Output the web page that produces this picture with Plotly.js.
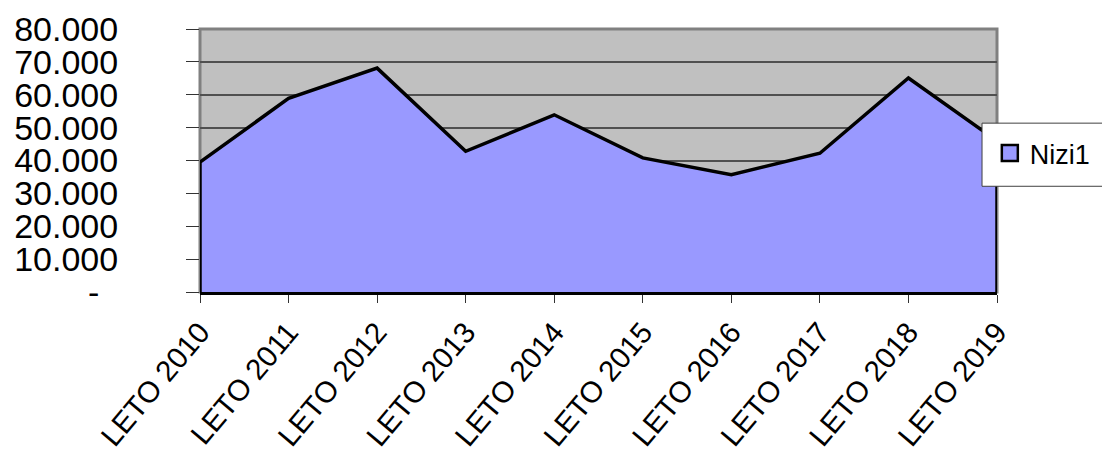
<!DOCTYPE html>
<html>
<head>
<meta charset="utf-8">
<script src="https://cdn.plot.ly/plotly-3.0.1.min.js"></script>
<style>html,body{margin:0;padding:0;background:#fff;}#chart{width:1102px;height:457px;}</style>
</head>
<body>
<div id="chart"></div>
<script>
const categories = ["LETO 2010","LETO 2011","LETO 2012","LETO 2013","LETO 2014","LETO 2015","LETO 2016","LETO 2017","LETO 2018","LETO 2019"];
const seriesName = "Nizi1";
const values = [39500, 58900, 68100, 42800, 53900, 40800, 35700, 42200, 65100, 46000];
const yTickVals = [0, 10000, 20000, 30000, 40000, 50000, 60000, 70000, 80000];
const yTickText = ["-\u00a0\u00a0", "10.000", "20.000", "30.000", "40.000", "50.000", "60.000", "70.000", "80.000"];

const polyX = [categories[0]].concat(categories, [categories[categories.length - 1]]);
const polyY = [0].concat(values, [0]);

const area = {
  type: "scatter", mode: "lines", x: polyX, y: polyY,
  fill: "toself", fillcolor: "#9999FF",
  line: {color: "#000000", width: 3.5},
  showlegend: false, hoverinfo: "skip"
};
const legendEntry = {
  type: "scatter", mode: "markers", x: [null], y: [null], name: seriesName,
  marker: {symbol: "square", size: 17, color: "#9999FF", line: {color: "#000", width: 2.5}},
  showlegend: true
};

const layout = {
  width: 1102, height: 457,
  margin: {l: 200, r: 105, t: 29, b: 165, pad: 0, autoexpand: false},
  paper_bgcolor: "#ffffff", plot_bgcolor: "#C0C0C0",
  font: {family: "Liberation Sans, Arial, sans-serif", color: "#000"},
  xaxis: {
    type: "category", range: [0, categories.length - 1],
    showgrid: false, zeroline: false, automargin: false,
    showline: true, linecolor: "#000", linewidth: 3, layer: "above traces",
    ticks: "outside", ticklen: 8, tickwidth: 1, tickcolor: "#333",
    tickangle: -50, tickfont: {size: 29.5, family: "Liberation Sans, Arial, sans-serif"},
    fixedrange: true
  },
  yaxis: {
    range: [0, 80000], tickvals: yTickVals, ticktext: yTickText,
    showgrid: true, gridcolor: "#505050", gridwidth: 2,
    zeroline: false, showline: false, automargin: false,
    ticks: "outside", ticklen: 13, tickwidth: 1, tickcolor: "#333",
    ticklabelstandoff: 61,
    tickfont: {size: 34, family: "Liberation Sans, Arial, sans-serif"},
    fixedrange: true
  },
  shapes: [
    {type: "rect", xref: "paper", yref: "paper", x0: 0, x1: 1, y0: 0, y1: 1,
      line: {color: "#808080", width: 3}, layer: "below"},
    {type: "rect", xref: "paper", yref: "paper", x0: 0.9812, x1: 1.14, y0: 0.402, y1: 0.642,
      fillcolor: "#ffffff", line: {color: "#404040", width: 1}, layer: "above"}
  ],
  legend: {
    x: 0.991, y: 0.62, xanchor: "left", yanchor: "top",
    bgcolor: "rgba(0,0,0,0)", borderwidth: 0,
    font: {size: 27, family: "Liberation Sans, Arial, sans-serif"}
  },
  showlegend: true
};

Plotly.newPlot("chart", [area, legendEntry], layout, {displayModeBar: false, staticPlot: true});
</script>
</body>
</html>
